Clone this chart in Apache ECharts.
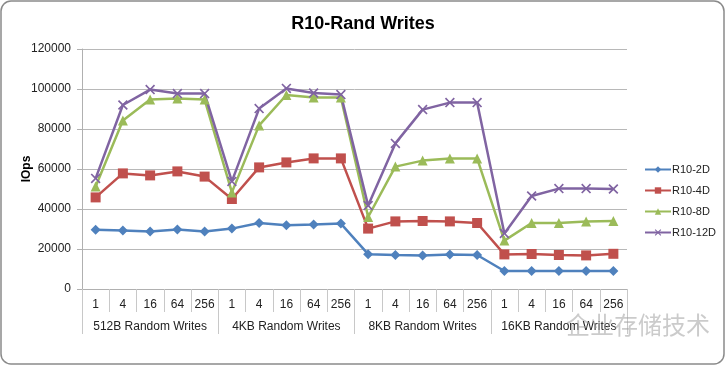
<!DOCTYPE html>
<html>
<head>
<meta charset="utf-8">
<script src="https://cdn.jsdelivr.net/npm/echarts@6/dist/echarts.min.js"></script>
<style>
html,body{margin:0;padding:0;background:#fff;}
#chart{width:726px;height:366px;}
</style>
</head>
<body>
<div id="chart"></div>
<script>
const qdLabels = ['1','4','16','64','256'];
const groups = ['512B Random Writes','4KB Random Writes','8KB Random Writes','16KB Random Writes'];
const categories = [].concat(qdLabels, qdLabels, qdLabels, qdLabels);
const yTicks = [0, 20000, 40000, 60000, 80000, 100000, 120000];

const r10_2D  = [29600, 29200, 28800, 29800, 28800, 30200, 33000, 31900, 32200, 32700, 17400, 17000, 16800, 17200, 17000, 9000, 9000, 9000, 9000, 9000];
const r10_4D  = [45800, 57800, 56800, 58800, 56200, 45000, 60800, 63300, 65300, 65300, 30200, 33800, 34000, 33800, 33000, 17300, 17500, 17000, 16800, 17600];
const r10_8D  = [51200, 84200, 94700, 95200, 94700, 48300, 81800, 97000, 95800, 95800, 36000, 61200, 64200, 65300, 65300, 24200, 33000, 33000, 33700, 34000];
const r10_12D = [55300, 92000, 99700, 97700, 97700, 53800, 90200, 100300, 98000, 97200, 41700, 72800, 89700, 93200, 93200, 27800, 46500, 50200, 50200, 50000];

const seriesNames = ['R10-2D','R10-4D','R10-8D','R10-12D'];
const seriesData = [r10_2D, r10_4D, r10_8D, r10_12D];
const colors = ['#4F81BD','#C0504D','#9BBB59','#8064A2'];
const xPath = 'path://M0,1.2 L1.2,0 L5,3.8 L8.8,0 L10,1.2 L6.2,5 L10,8.8 L8.8,10 L5,6.2 L1.2,10 L0,8.8 L3.8,5 Z';
const symbols = ['diamond','rect','triangle', xPath];
const sizes = [10, 10, 10, 10];

const font = '"Liberation Sans", Arial, sans-serif';
const chart = echarts.init(document.getElementById('chart'), null, {renderer:'canvas'});

chart.setOption({
  animation: false,
  color: colors,
  textStyle: {fontFamily: font},
  title: {
    text: 'R10-Rand Writes',
    left: 'center',
    top: 10,
    textStyle: {fontFamily: font, fontSize: 18, fontWeight: 'bold', color: '#000'}
  },
  legend: {
    orient: 'vertical',
    left: 639,
    top: 159,
    itemWidth: 26,
    itemHeight: 8,
    itemGap: 10,
    textStyle: {fontFamily: font, fontSize: 11, color: '#222', padding: [0,0,0,-4]},
    data: seriesNames
  },
  grid: {left: 82, right: 99, top: 49, bottom: 77, containLabel: false},
  xAxis: [
    {
      type: 'category',
      data: categories,
      boundaryGap: true,
      axisLine: {show: true, lineStyle: {color: '#b0b0b0', width: 1}},
      axisTick: {show: true, interval: 0, length: 23, lineStyle: {color: '#c8c8c8'}},
      axisLabel: {interval: 0, margin: 10, fontFamily: font, fontSize: 12, color: '#222'}
    },
    {
      type: 'category',
      data: groups,
      position: 'bottom',
      boundaryGap: true,
      axisLine: {show: false},
      axisTick: {show: true, interval: 0, length: 45, lineStyle: {color: '#c8c8c8'}},
      axisLabel: {interval: 0, margin: 32, fontFamily: font, fontSize: 12, color: '#222'}
    }
  ],
  yAxis: {
    type: 'value',
    min: yTicks[0],
    max: yTicks[yTicks.length - 1],
    interval: yTicks[1] - yTicks[0],
    name: 'IOps',
    nameLocation: 'middle',
    nameGap: 49,
    nameRotate: 90,
    nameMoveOverlap: false,
    nameTextStyle: {fontFamily: font, fontSize: 12, fontWeight: 'bold', color: '#000'},
    axisLine: {show: true, lineStyle: {color: '#b0b0b0'}},
    axisTick: {show: true, length: 5, lineStyle: {color: '#b0b0b0'}},
    axisLabel: {margin: 11, fontFamily: font, fontSize: 12, color: '#222', formatter: v => String(v)},
    splitLine: {show: true, lineStyle: {color: '#b8b8b8', width: 1}}
  },
  series: seriesNames.map((n, i) => ({
    name: n,
    type: 'line',
    xAxisIndex: 0,
    data: seriesData[i],
    symbol: symbols[i],
    symbolSize: sizes[i],
    showAllSymbol: true,
    lineStyle: {width: 2.5, color: colors[i]},
    itemStyle: {color: colors[i]},
    emphasis: {disabled: true}
  })),
  graphic: [
    {
      type: 'rect',
      shape: {x: 1, y: 1, width: 723, height: 363, r: 10},
      style: {fill: 'none', stroke: '#8a8a8a', lineWidth: 1.5},
      silent: true, z: -1
    },
    {
      type: 'text',
      left: 566,
      top: 313,
      style: {text: '企业存储技术', font: '24px "Noto Sans CJK SC", sans-serif', fill: 'rgba(160,160,160,0.55)'},
      silent: true, z: 100
    }
  ]
});
</script>
</body>
</html>
